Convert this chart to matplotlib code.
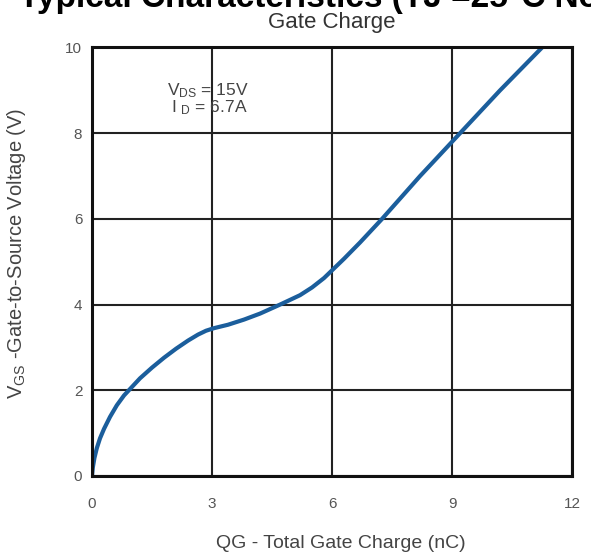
import matplotlib
matplotlib.use("Agg")
import matplotlib.pyplot as plt

plt.rcParams['font.family'] = ['Liberation Sans', 'DejaVu Sans']
plt.rcParams['mathtext.default'] = 'regular'

# Gate charge curve
qg = [0, 0.02, 0.06, 0.12, 0.2, 0.3, 0.45, 0.62, 0.8, 0.95, 1.2, 1.5, 1.8, 2.1, 2.4, 2.65, 2.85, 3.05,
      3.4, 3.8, 4.2, 4.7, 5.2, 5.5, 5.8, 6.0, 6.3, 6.7, 7.25, 8.2, 9.2, 10.2, 11.25]
vgs = [0, 0.2, 0.42, 0.65, 0.88, 1.1, 1.38, 1.65, 1.88, 2.03, 2.28, 2.53, 2.76, 2.97, 3.16, 3.3, 3.39, 3.45,
       3.53, 3.65, 3.79, 4.0, 4.22, 4.4, 4.62, 4.8, 5.07, 5.45, 6.0, 7.0, 8.0, 9.0, 10.0]

x_ticks = [0, 3, 6, 9, 12]
y_ticks = [0, 2, 4, 6, 8, 10]

fig = plt.figure(figsize=(5.91, 5.54), dpi=100)
ax = fig.add_axes([0.1557, 0.1408, 0.8123, 0.7735])

ax.plot(qg, vgs, color='#1b5e9c', linewidth=3, solid_capstyle='round', solid_joinstyle='round')

ax.set_xlim(0, 12)
ax.set_ylim(0, 10)
ax.set_xticks(x_ticks)
ax.set_yticks(y_ticks)
ax.grid(True, color='#222222', linewidth=1.5)
ax.set_axisbelow(True)
for s in ax.spines.values():
    s.set_linewidth(2.2)
    s.set_color('#111111')
ax.tick_params(length=0, labelsize=11, labelcolor='#555555')
ax.tick_params(axis='x', pad=15)
ax.tick_params(axis='y', pad=7)

ax.set_xlabel('QG - Total Gate Charge (nC)', fontsize=14, color='#444444')
ax.xaxis.set_label_coords(0.519, -0.137)
ax.set_ylabel(r'$V_{GS}$ -Gate-to-Source Voltage (V)', fontsize=14.5, color='#444444')
ax.yaxis.set_label_coords(-0.133, 0.519)
ax.set_title('Gate Charge', fontsize=16, color='#333333', pad=14)

ax.text(1.87, 9.0, r'$V_{DS}$ = 15V', fontsize=12.5, color='#444444', va='center')
ax.text(1.98, 8.6, r'I $_D$ = 6.7A', fontsize=12.5, color='#444444', va='center')

# page heading of the datasheet, cut off at the top edge as in the scan
fig.text(19 / 591, 1 - 7 / 554, 'Typical Characteristics (TJ =25°C Noted)',
         fontsize=24, fontweight='bold', color='black', va='baseline', ha='left')

fig.savefig('out.png', dpi=100, facecolor='white')
